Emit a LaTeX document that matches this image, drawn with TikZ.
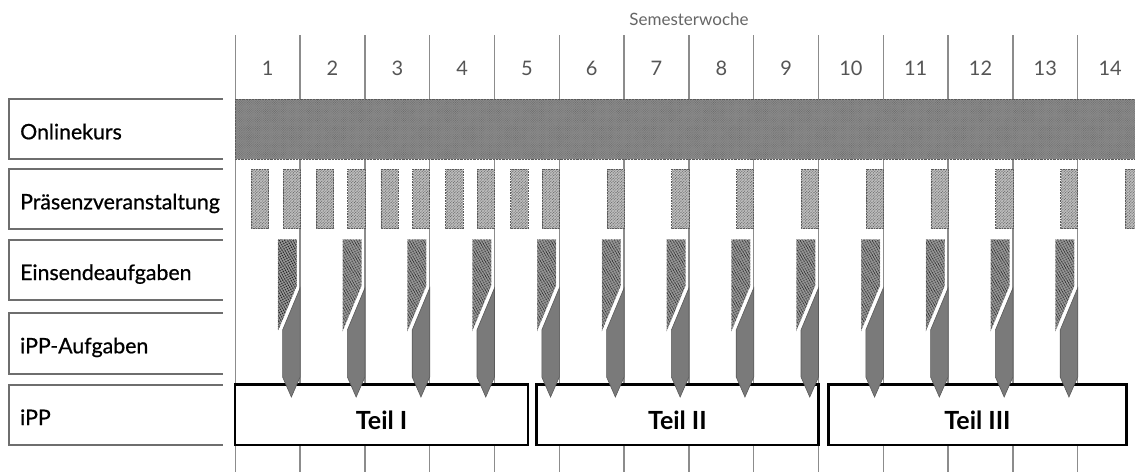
\documentclass[tikz,border=0pt]{standalone}
\usepackage{fontspec}
\setmainfont{Lato}
\newfontfamily\labelfont[FakeBold=0.7]{Lato}
\usetikzlibrary{patterns.meta}
\definecolor{gridgray}{HTML}{8C8C8C}
\definecolor{boxgray}{HTML}{6E6E6E}
\definecolor{darkfill}{HTML}{7A7A7A}
\definecolor{darkedge}{HTML}{5A5A5A}
\definecolor{barfill}{HTML}{8A8A8A}
\definecolor{barline}{HTML}{5E5E5E}
\definecolor{praesfill}{HTML}{BDBDBD}
\definecolor{praesline}{HTML}{555555}
\definecolor{hatchfill}{HTML}{9A9A9A}
\definecolor{numgray}{HTML}{555555}
\definecolor{headgray}{HTML}{666666}
\tikzset{
  gridline/.style={draw=gridgray, line width=1.3pt},
  labelbox/.style={draw=boxgray, line width=1.8pt},
  labeltext/.style={anchor=base west, inner sep=0pt, font=\labelfont\fontsize{21.3}{24}\selectfont, text=black},
  numlabel/.style={anchor=base, inner sep=0pt, font=\fontsize{20}{24}\selectfont, text=numgray},
  headtext/.style={anchor=base, inner sep=0pt, font=\fontsize{17}{20}\selectfont, text=headgray},
  onlinebar/.style={preaction={fill=barfill}, pattern={Lines[angle=45,distance=1.6pt,line width=0.45pt]}, pattern color=barline, draw=darkedge, densely dotted, line width=0.6pt},
  praesbox/.style={preaction={fill=praesfill}, pattern={Lines[angle=45,distance=2pt,line width=0.6pt]}, pattern color=praesline, draw=darkedge, densely dotted, line width=0.6pt},
  einsbox/.style={preaction={fill=hatchfill}, pattern={Lines[angle=-60,distance=2.4pt,line width=1.1pt]}, pattern color=black!85, draw=darkedge, densely dotted, line width=0.5pt},
  ippbox/.style={fill=darkfill, draw=darkedge, line width=0.6pt},
  teilbox/.style={draw=black, line width=2.5pt, fill=white},
  teiltext/.style={anchor=base, inner sep=0pt, font=\bfseries\fontsize{25}{30}\selectfont, text=black}
}
\begin{document}
\begin{tikzpicture}[x=1pt,y=-1pt]
\useasboundingbox (0,0) rectangle (1135,472);
\fill[white] (0,0) rectangle (1135,472);

% grid lines
\foreach \k in {0,...,13} {
  \coordinate (gt\k) at ({235.3+64.8*\k},35);
  \coordinate (gb\k) at ({235.3+64.8*\k},472);
  \draw[gridline] (gt\k) -- (gb\k);
}

% header
\node[headtext] (head) at (689,25) {Semesterwoche};
\foreach \k in {1,...,14} {
  \node[numlabel] (w\k) at ({235.3+64.8*(\k-0.5)},75) {\k};
}

% label boxes
\foreach \t/\b/\n/\txt in {99.3/159.3/online/Onlinekurs, 169.3/228.7/praes/Präsenzveranstaltung, 240/300/eins/Einsendeaufgaben, 313.3/374/ippa/iPP-Aufgaben, 385/445/ipp/iPP} {
  \draw[labelbox] (222.7,\t) -- (9.3,\t) -- (9.3,\b) -- (222.7,\b);
  \node[labeltext] (l\n) at (20,{\t+40}) {\txt};
}

% Onlinekurs bar
\path[onlinebar] (235.3,99.3) rectangle (1140,159.3);

% Praesenzveranstaltung
\foreach \k in {1,...,5} {
  \pgfmathsetmacro{\s}{235.3+64.8*(\k-1)}
  \path[praesbox] ({\s+16},169.3) rectangle ({\s+33.4},228.7);
}
\foreach \k in {1,...,14} {
  \pgfmathsetmacro{\e}{235.3+64.8*\k}
  \path[praesbox] ({\e-17.2},169.3) rectangle (\e,228.7);
}

% iPP parts
\node[teilbox, minimum width=293pt, minimum height=60.5pt, inner sep=0pt] (teil1) at (381.6,414.8) {};
\node[teilbox, minimum width=282pt, minimum height=60.5pt, inner sep=0pt] (teil2) at (677.4,414.8) {};
\node[teilbox, minimum width=298.4pt, minimum height=60.5pt, inner sep=0pt] (teil3) at (977.5,414.8) {};
\node[teiltext] (t1) at (381.6,429) {Teil I};
\node[teiltext] (t2) at (677.4,429) {Teil II};
\node[teiltext] (t3) at (977.5,429) {Teil III};

% Einsendeaufgaben and iPP-Aufgaben
\foreach \k in {1,...,13} {
  \pgfmathsetmacro{\e}{235.3+64.8*\k}
  \path[einsbox] ({\e-22},239.5) -- ({\e-3.5},239.5) -- ({\e-3.5},285.6) -- ({\e-22},330) -- cycle;
  \path[ippbox] (\e,288) -- (\e,377) -- ({\e-8.75},397) -- ({\e-17.5},377) -- ({\e-17.5},330) -- cycle;
}
\end{tikzpicture}
\end{document}
